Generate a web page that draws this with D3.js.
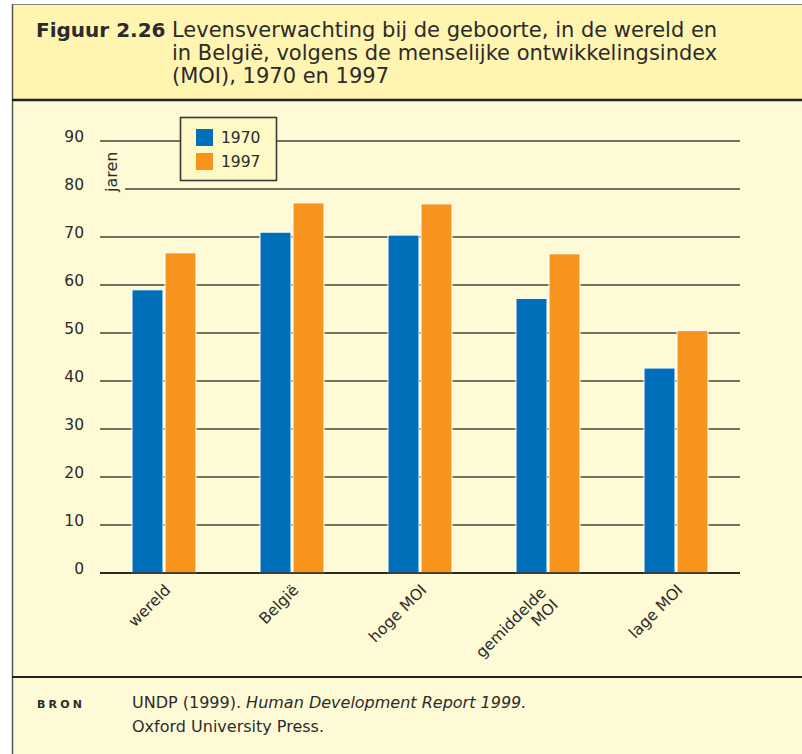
<!DOCTYPE html>
<html>
<head>
<meta charset="utf-8">
<script src="https://cdn.jsdelivr.net/npm/d3@7"></script>
<style>
  body { margin: 0; background: #fff; }
  text { font-family: "DejaVu Sans", Verdana, sans-serif; fill: #2b2b2b; }
</style>
</head>
<body>
<div id="chart"></div>
<script>
const categories = ["wereld", "België", "hoge MOI", "gemiddelde\nMOI", "lage MOI"]
const years = ["1970", "1997"]
const values1970 = [59, 71, 70.4, 57.2, 42.7]
const values1997 = [66.7, 77.1, 76.9, 66.5, 50.5]
const yTicks = [0, 10, 20, 30, 40, 50, 60, 70, 80, 90]

const w = 802
const h = 754
const colors = { "1970": "#0070ba", "1997": "#f7941e" }

const svg = d3.select("#chart").append("svg")
    .attr("width", w).attr("height", h)

// frame: header + body
svg.append("rect").attr("x", 12).attr("y", 4).attr("width", w).attr("height", 96).attr("fill", "#fff5b0")
svg.append("rect").attr("x", 12).attr("y", 100).attr("width", w).attr("height", h - 100).attr("fill", "#fffad6")
svg.append("line").attr("x1", 12).attr("x2", w).attr("y1", 4.5).attr("y2", 4.5).attr("stroke", "#8a8a8a").attr("stroke-width", 1)
svg.append("line").attr("x1", 12.5).attr("x2", 12.5).attr("y1", 4).attr("y2", h).attr("stroke", "#555").attr("stroke-width", 1.5)
svg.append("line").attr("x1", 12).attr("x2", w).attr("y1", 100).attr("y2", 100).attr("stroke", "#222").attr("stroke-width", 2.5)
svg.append("line").attr("x1", 12).attr("x2", w).attr("y1", 677).attr("y2", 677).attr("stroke", "#222").attr("stroke-width", 2)

// title
const title = svg.append("g")
title.append("text").attr("x", 36).attr("y", 37)
    .style("font-size", "20px").style("font-weight", "bold").text("Figuur 2.26")
const titleLines = ["Levensverwachting bij de geboorte, in de wereld en",
    "in België, volgens de menselijke ontwikkelingsindex",
    "(MOI), 1970 en 1997"]
title.selectAll(".tl").data(titleLines).enter().append("text")
    .attr("class", "tl")
    .attr("x", 172).attr("y", (d, i) => 37 + i * 23)
    .style("font-size", "21px")
    .text(d => d)

// scales
const x = d3.scaleBand().domain(categories).range([100, 740])
const y = d3.scaleLinear().domain([0, 90]).range([573, 141])

// gridlines
svg.append("g").selectAll("line").data(yTicks).enter().append("line")
    .attr("x1", d => d === 80 ? 125 : 100)
    .attr("x2", 740)
    .attr("y1", d => y(d)).attr("y2", d => y(d))
    .attr("stroke", d => d === 0 ? "#1a1a1a" : "#4a4538")
    .attr("stroke-width", 1.6)

// y axis labels
const yAxis = svg.append("g").attr("transform", "translate(84,0)")
    .call(d3.axisLeft(y).tickValues(yTicks).tickSize(0).tickPadding(0))
yAxis.select(".domain").remove()
yAxis.selectAll("text")
    .attr("dy", "0.05em")
    .style("font-size", "15.5px").style("font-family", "'DejaVu Sans', Verdana, sans-serif")
    .attr("fill", "#2b2b2b")

svg.append("text")
    .attr("transform", "translate(117,192) rotate(-90)")
    .style("font-size", "16px")
    .text("jaren")

// bars
const barW = 31
const groups = svg.append("g").selectAll("g").data(categories).enter().append("g")
    .attr("transform", d => "translate(" + (x(d) + x.bandwidth() / 2) + ",0)")

groups.append("rect")
    .attr("x", -barW - 1)
    .attr("y", (d, i) => y(values1970[i]))
    .attr("width", barW)
    .attr("height", (d, i) => y(0) - y(values1970[i]))
    .attr("fill", colors["1970"])
    .attr("stroke", "#fff").attr("stroke-width", 1)

groups.append("rect")
    .attr("x", 1)
    .attr("y", (d, i) => y(values1997[i]))
    .attr("width", barW)
    .attr("height", (d, i) => y(0) - y(values1997[i]))
    .attr("fill", colors["1997"])
    .attr("stroke", "#fff").attr("stroke-width", 1)

// zero line above bars
svg.append("line").attr("x1", 100).attr("x2", 740).attr("y1", y(0)).attr("y2", y(0))
    .attr("stroke", "#1a1a1a").attr("stroke-width", 1.6)

// category labels
const labels = groups.append("text")
    .attr("transform", "translate(7.5,591) rotate(-45)")
    .attr("text-anchor", "end")
    .style("font-size", "15.5px")
labels.each(function(d) {
    const parts = d.split("\n")
    const t = d3.select(this)
    if (parts.length === 1) {
        t.text(d)
    } else {
        t.append("tspan").attr("x", -8).attr("y", -4).text(parts[0])
        t.append("tspan").attr("x", -8).attr("y", 13).text(parts[1])
    }
})

// legend
const legend = svg.append("g")
legend.append("rect").attr("x", 180.5).attr("y", 117.5).attr("width", 96).attr("height", 63)
    .attr("fill", "#fff9c6").attr("stroke", "#3a3a3a").attr("stroke-width", 1.6)
const li = legend.selectAll(".li").data(years).enter().append("g").attr("class", "li")
    .attr("transform", (d, i) => "translate(196," + (129 + i * 24) + ")")
li.append("rect").attr("width", 17).attr("height", 17).attr("fill", d => colors[d])
li.append("text").attr("x", 25).attr("y", 14).style("font-size", "15.5px").text(d => d)

// source
svg.append("text").attr("x", 37).attr("y", 708)
    .style("font-size", "11px").style("font-weight", "bold").style("letter-spacing", "3.2px")
    .text("BRON")
const src = svg.append("text").attr("x", 132).attr("y", 708).style("font-size", "16px")
src.append("tspan").text("UNDP (1999). ")
src.append("tspan").style("font-style", "italic").text("Human Development Report 1999.")
svg.append("text").attr("x", 132).attr("y", 732).style("font-size", "16px").text("Oxford University Press.")
</script>
</body>
</html>
